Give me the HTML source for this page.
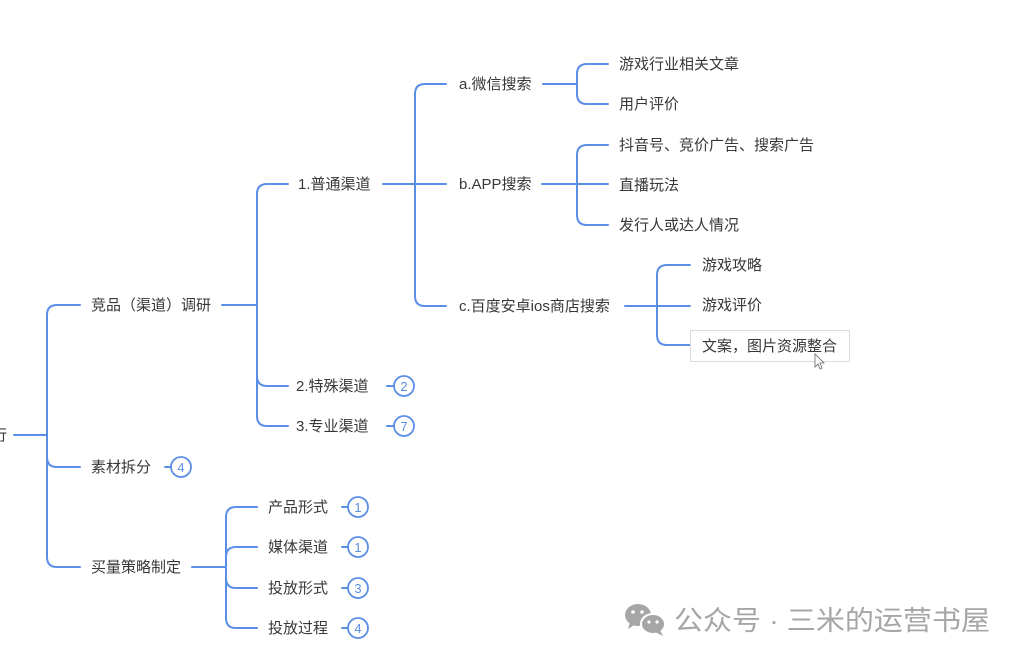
<!DOCTYPE html>
<html>
<head>
<meta charset="utf-8">
<style>
html,body{margin:0;padding:0;background:#fff;}
svg{display:block;}
text{font-family:"Liberation Sans","Noto Sans CJK SC",sans-serif;}
.t{font-size:15px;fill:#383838;}
.b{font-size:13px;fill:#5b8ee6;text-anchor:middle;}
</style>
</head>
<body>
<svg width="1024" height="662" viewBox="0 0 1024 662" xmlns="http://www.w3.org/2000/svg">
<rect width="1024" height="662" fill="#fff"/>
<g fill="none" stroke="#5b8ee6" stroke-width="2" stroke-linecap="round">
  <path d="M14,435 H47"/>
  <path d="M80,305 H57 Q47,305 47,315 V557 Q47,567 57,567 H80"/>
  <path d="M47,457 Q47,467 57,467 H80"/>
  <path d="M222,305 H257"/>
  <path d="M288,184 H267 Q257,184 257,194 V416 Q257,426 267,426 H288"/>
  <path d="M257,376 Q257,386 267,386 H288"/>
  <path d="M383,184 H446"/>
  <path d="M446,84 H425 Q415,84 415,94 V296 Q415,306 425,306 H446"/>
  <path d="M543,84 H577"/>
  <path d="M608,64 H587 Q577,64 577,74 V94 Q577,104 587,104 H608"/>
  <path d="M542,184 H608"/>
  <path d="M608,145 H587 Q577,145 577,155 V215 Q577,225 587,225 H608"/>
  <path d="M625,306 H690"/>
  <path d="M690,265 H667 Q657,265 657,275 V335 Q657,345 667,345 H690"/>
  <path d="M192,567 H226"/>
  <path d="M257,507 H236 Q226,507 226,517 V618 Q226,628 236,628 H257"/>
  <path d="M226,557 Q226,547 236,547 H257"/>
  <path d="M226,578 Q226,588 236,588 H257"/>
  <path d="M387,386 H394"/>
  <path d="M387,426 H394"/>
  <path d="M165,467 H171"/>
  <path d="M342,507 H348"/>
  <path d="M342,547 H348"/>
  <path d="M342,588 H348"/>
  <path d="M342,628 H348"/>
</g>
<g fill="#fff" stroke="#5b8ee6" stroke-width="1.8">
  <circle cx="404" cy="386" r="10"/>
  <circle cx="404" cy="426" r="10"/>
  <circle cx="181" cy="467" r="10"/>
  <circle cx="358" cy="507" r="10"/>
  <circle cx="358" cy="547" r="10"/>
  <circle cx="358" cy="588" r="10"/>
  <circle cx="358" cy="628" r="10"/>
</g>
<text class="b" x="404" y="391">2</text>
<text class="b" x="404" y="431">7</text>
<text class="b" x="181" y="472">4</text>
<text class="b" x="358" y="512">1</text>
<text class="b" x="358" y="552">1</text>
<text class="b" x="358" y="593">3</text>
<text class="b" x="358" y="633">4</text>

<rect x="690.5" y="330.5" width="159" height="31" fill="#fff" stroke="#dcdcdc" stroke-width="1"/>

<text class="t" x="-8" y="440">行</text>
<text class="t" x="91" y="310">竞品（渠道）调研</text>
<text class="t" x="91" y="472">素材拆分</text>
<text class="t" x="91" y="572">买量策略制定</text>

<text class="t" x="298" y="189">1.普通渠道</text>
<text class="t" x="296" y="391">2.特殊渠道</text>
<text class="t" x="296" y="431">3.专业渠道</text>

<text class="t" x="459" y="89">a.微信搜索</text>
<text class="t" x="459" y="189">b.APP搜索</text>
<text class="t" x="459" y="311">c.百度安卓ios商店搜索</text>

<text class="t" x="619" y="69">游戏行业相关文章</text>
<text class="t" x="619" y="109">用户评价</text>
<text class="t" x="619" y="150">抖音号、竞价广告、搜索广告</text>
<text class="t" x="619" y="190">直播玩法</text>
<text class="t" x="619" y="230">发行人或达人情况</text>

<text class="t" x="702" y="270">游戏攻略</text>
<text class="t" x="702" y="310">游戏评价</text>
<text class="t" x="702" y="351">文案，图片资源整合</text>

<text class="t" x="268" y="512">产品形式</text>
<text class="t" x="268" y="552">媒体渠道</text>
<text class="t" x="268" y="593">投放形式</text>
<text class="t" x="268" y="633">投放过程</text>

<path d="M815,354 L815,367 L818,364 L820,369 L822,368 L820,363 L824,363 Z" fill="#fff" stroke="#666" stroke-width="0.8"/>

<g fill="#a6a6a6">
  <ellipse cx="638" cy="615" rx="13" ry="11"/>
  <path d="M630,622 L628,629 L636,624 Z"/>
  <ellipse cx="653" cy="624" rx="12" ry="10" stroke="#fff" stroke-width="2"/>
  <path d="M660,630 L663,636 L655,632 Z"/>
</g>
<g fill="#fff">
  <circle cx="633" cy="612" r="1.8"/>
  <circle cx="642" cy="612" r="1.8"/>
  <circle cx="649" cy="622" r="1.6"/>
  <circle cx="657" cy="622" r="1.6"/>
</g>
<text x="674" y="630" font-size="27" fill="#a6a6a6" textLength="316" lengthAdjust="spacingAndGlyphs">公众号 · 三米的运营书屋</text>
</svg>
</body>
</html>
